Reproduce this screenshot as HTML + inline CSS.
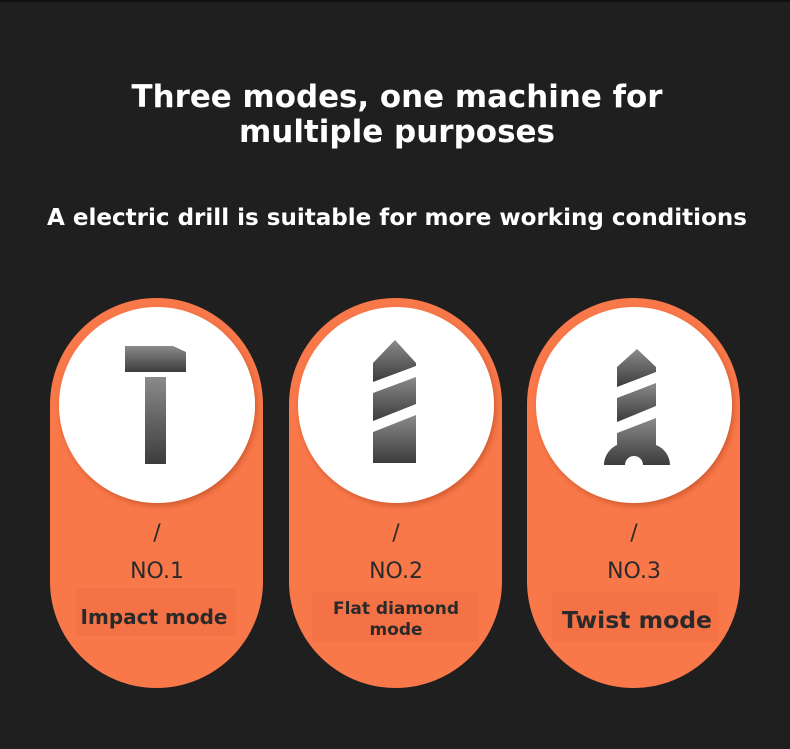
<!DOCTYPE html>
<html><head><meta charset="utf-8"><style>
html,body{margin:0;padding:0;background:#1f1f1f;}
body{width:790px;height:749px;overflow:hidden;position:relative;font-family:"Liberation Sans","DejaVu Sans",sans-serif;}
svg{position:absolute;left:0;top:0;}
</style></head><body>
<svg width="790" height="749" viewBox="0 0 790 749" xmlns="http://www.w3.org/2000/svg">
<defs>
<linearGradient id="g" x1="0" y1="0" x2="0" y2="1"><stop offset="0" stop-color="#8a8a8a"/><stop offset="1" stop-color="#3c3c3c"/></linearGradient>
<filter id="sh" x="-20%" y="-20%" width="140%" height="140%"><feDropShadow dx="2" dy="3" stdDeviation="3" flood-color="#b84a20" flood-opacity="0.6"/></filter>
</defs>
<rect x="0" y="0" width="790" height="2" fill="#111"/>
<text x="397" y="107" text-anchor="middle" fill="#fff" font-size="31" font-weight="bold" font-family="DejaVu Sans, sans-serif" textLength="531" lengthAdjust="spacingAndGlyphs">Three modes, one machine for</text>
<text x="397" y="142" text-anchor="middle" fill="#fff" font-size="31" font-weight="bold" font-family="DejaVu Sans, sans-serif">multiple purposes</text>
<text x="397" y="225" text-anchor="middle" fill="#fff" font-size="23" font-weight="bold" font-family="DejaVu Sans, sans-serif" textLength="700" lengthAdjust="spacingAndGlyphs">A electric drill is suitable for more working conditions</text>

<rect x="50" y="298" width="213" height="390" rx="106.5" fill="#f9784a"/>
<rect x="289" y="298" width="213" height="390" rx="106.5" fill="#f9784a"/>
<rect x="527" y="298" width="213" height="390" rx="106.5" fill="#f9784a"/>
<circle cx="157" cy="405" r="98" fill="#fff" filter="url(#sh)"/>
<circle cx="396" cy="405" r="98" fill="#fff" filter="url(#sh)"/>
<circle cx="634" cy="405" r="98" fill="#fff" filter="url(#sh)"/>

<path d="M125 346 H173 L186 352 V372 H125 Z" fill="url(#g)"/>
<rect x="145" y="377" width="21" height="87" fill="url(#g)"/>

<g fill="url(#g)">
<path d="M373 363 L395 340 L416 363 V366 L373 382 Z"/>
<path d="M373 393 L416 377 V404 L373 421 Z"/>
<path d="M373 432 L416 415 V463 H373 Z"/>
</g>
<g fill="url(#g)">
<path d="M617 367 L637 349 L656 367 V372 L617 387 Z"/>
<path d="M617 398 L656 383 V406 L617 422 Z"/>
<path d="M617 433 L656 418 V445 C664 448 670 456 670 465 H643 A9 9 0 0 0 625 465 H604 C604 456 610 448 617 445 Z"/>
</g>

<g fill="#2a2a2a" text-anchor="middle" font-family="DejaVu Sans, sans-serif">
<text x="157" y="540" font-size="22">/</text>
<text x="157" y="578" font-size="22">NO.1</text>
<text x="396" y="540" font-size="22">/</text>
<text x="396" y="578" font-size="22">NO.2</text>
<text x="634" y="540" font-size="22">/</text>
<text x="634" y="578" font-size="22">NO.3</text>
</g>
<rect x="76" y="588" width="160" height="48" fill="#f06e42" opacity="0.6"/>
<rect x="312" y="592" width="166" height="50" fill="#f06e42" opacity="0.6"/>
<rect x="552" y="592" width="166" height="50" fill="#f06e42" opacity="0.6"/>
<g fill="#2a2a2a" text-anchor="middle" font-weight="bold" font-family="DejaVu Sans, sans-serif">
<text x="154" y="624" font-size="20">Impact mode</text>
<text x="396" y="614" font-size="17">Flat diamond</text>
<text x="396" y="635" font-size="17">mode</text>
<text x="637" y="628" font-size="23.5">Twist mode</text>
</g>
</svg>
</body></html>
